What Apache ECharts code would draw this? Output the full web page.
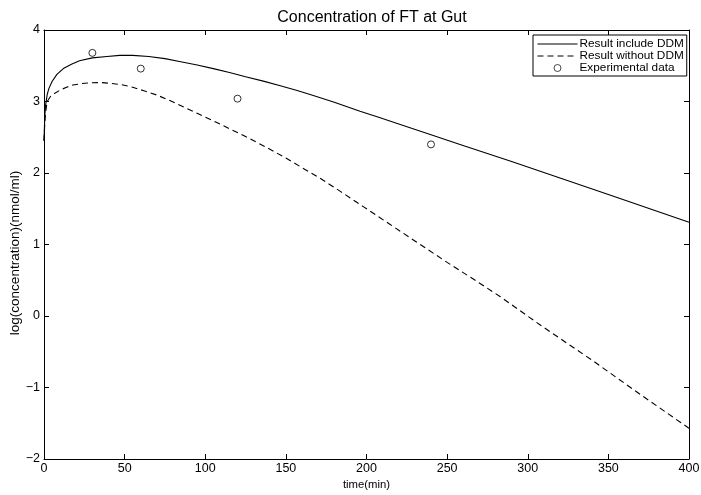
<!DOCTYPE html>
<html>
<head>
<meta charset="utf-8">
<script src="https://cdn.jsdelivr.net/npm/echarts@6/dist/echarts.min.js"></script>
<style>html,body{margin:0;padding:0;background:#fff}#c{width:701px;height:495px}</style>
</head>
<body>
<div id="c"></div>
<script>
var title = 'Concentration of FT at Gut';
var xLabel = 'time(min)';
var yLabel = 'log(concentration)(nmol/ml)';
var seriesNames = ['Result include DDM', 'Result without DDM', 'Experimental data'];

var withT = [0, 0.5, 1, 2, 3, 5, 8, 12, 17, 22, 30, 39, 47, 55, 65, 75, 84, 95, 105, 115, 125, 136, 146, 157, 167, 180, 196, 208, 220, 240, 258, 290, 320, 350, 400];
var withV = [2.45, 2.8, 2.95, 3.1, 3.18, 3.28, 3.38, 3.46, 3.52, 3.57, 3.61, 3.63, 3.645, 3.645, 3.63, 3.6, 3.56, 3.51, 3.46, 3.405, 3.345, 3.285, 3.225, 3.155, 3.085, 2.99, 2.865, 2.775, 2.685, 2.535, 2.40, 2.16, 1.93, 1.70, 1.31];

var withoutT = [0, 0.5, 1, 2, 4, 7, 10, 14, 18, 23, 28, 35, 41, 48, 55, 62, 70, 78, 86, 95, 105, 115, 125, 137, 150, 160, 171, 184, 198, 214, 230, 250, 266, 283, 308, 340, 370, 400];
var withoutV = [2.45, 2.7, 2.85, 3.0, 3.07, 3.12, 3.16, 3.2, 3.23, 3.25, 3.26, 3.265, 3.255, 3.235, 3.2, 3.15, 3.09, 3.015, 2.93, 2.835, 2.73, 2.62, 2.51, 2.37, 2.21, 2.075, 1.93, 1.74, 1.53, 1.29, 1.05, 0.75, 0.52, 0.27, -0.13, -0.62, -1.1, -1.57];

var expT = [30, 60, 120, 240];
var expV = [3.68, 3.46, 3.04, 2.40];

function zip(a, b) { return a.map(function (v, i) { return [v, b[i]]; }); }
function fmt(v) { return v < 0 ? '\u2212' + Math.abs(v) : String(v); }

var font = 'Liberation Sans, Arial, Helvetica, sans-serif';
var tick = { show: true, inside: true, length: 5, lineStyle: { color: '#000', width: 1 } };
var line = { show: true, onZero: false, lineStyle: { color: '#000', width: 1 } };
var hideSym = { color: 'rgba(0,0,0,0)', borderColor: 'rgba(0,0,0,0)', borderWidth: 0 };

var chart = echarts.init(document.getElementById('c'), null, { renderer: 'canvas' });
chart.setOption({
  animation: false,
  backgroundColor: '#fff',
  title: {
    text: title, left: 367, top: 5, textAlign: 'center',
    textStyle: { fontFamily: font, fontSize: 16, fontWeight: 'normal', color: '#000' }
  },
  grid: { left: 44, top: 30, right: 12, bottom: 36, containLabel: false, outerBoundsMode: 'none' },
  legend: {
    orient: 'vertical', left: 533, top: 35,
    padding: [3, 3, 2, 4], itemGap: 0, itemWidth: 40, itemHeight: 7,
    borderColor: '#000', borderWidth: 1, backgroundColor: '#fff', borderRadius: 0,
    lineStyle: { width: 1 },
    textStyle: { fontFamily: font, fontSize: 11.8, lineHeight: 11, color: '#000', padding: [0, 0, 0, -3] },
    data: [
      { name: seriesNames[0], itemStyle: hideSym },
      { name: seriesNames[1], itemStyle: hideSym },
      { name: seriesNames[2], itemStyle: { color: '#fff', borderColor: '#000', borderWidth: 0.9 } }
    ]
  },
  xAxis: [{
    type: 'value', min: 0, max: 400, interval: 50, position: 'bottom',
    name: xLabel, nameLocation: 'middle', nameGap: 20, nameMoveOverlap: false,
    nameTextStyle: { fontFamily: font, fontSize: 11.3, color: '#000' },
    axisLine: line, axisTick: tick, splitLine: { show: false },
    axisLabel: { fontFamily: font, fontSize: 12.5, color: '#000', margin: 3 }
  }, {
    type: 'value', min: 0, max: 400, interval: 50, position: 'top',
    axisLine: line, axisTick: tick, splitLine: { show: false },
    axisLabel: { show: false }
  }],
  yAxis: [{
    type: 'value', min: -2, max: 4, interval: 1, position: 'left',
    name: yLabel, nameLocation: 'middle', nameGap: 22, nameRotate: 90, nameMoveOverlap: false,
    nameTextStyle: { fontFamily: font, fontSize: 13.5, color: '#000', padding: [0, 17, 0, 0] },
    axisLine: line, axisTick: tick, splitLine: { show: false },
    axisLabel: { fontFamily: font, fontSize: 12.5, color: '#000', margin: 4, formatter: fmt }
  }, {
    type: 'value', min: -2, max: 4, interval: 1, position: 'right',
    axisLine: line, axisTick: tick, splitLine: { show: false },
    axisLabel: { show: false }
  }],
  series: [{
    name: seriesNames[0], type: 'line', data: zip(withT, withV),
    symbol: 'none', smooth: false,
    lineStyle: { color: '#000', width: 1.1 }, itemStyle: { color: '#000' }
  }, {
    name: seriesNames[1], type: 'line', data: zip(withoutT, withoutV),
    symbol: 'none', smooth: false,
    lineStyle: { color: '#000', width: 1.1, type: [6, 4] }, itemStyle: { color: '#000' }
  }, {
    name: seriesNames[2], type: 'scatter', data: zip(expT, expV),
    symbol: 'circle', symbolSize: 7,
    itemStyle: { color: '#fff', borderColor: '#000', borderWidth: 1 }
  }]
});
</script>
</body>
</html>
